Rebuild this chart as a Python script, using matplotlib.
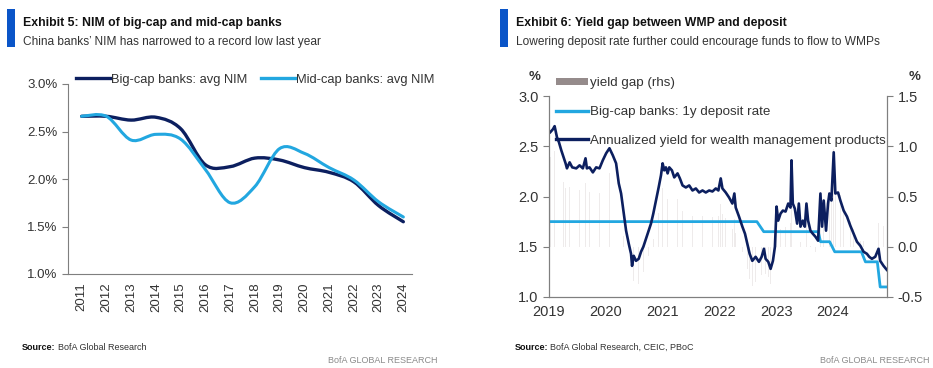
import numpy as np
import matplotlib
matplotlib.use("Agg")
import matplotlib.pyplot as plt
from matplotlib.path import Path
from matplotlib.patches import PathPatch, Patch, Rectangle
from matplotlib.lines import Line2D

plt.rcParams['font.family'] = ['Liberation Sans', 'DejaVu Sans']

# ---- Exhibit 5 data: average NIM (%)
years = [2011, 2012, 2013, 2014, 2015, 2016, 2017, 2018, 2019, 2020, 2021, 2022, 2023, 2024]
big_nim = [2.66, 2.66, 2.62, 2.65, 2.53, 2.15, 2.13, 2.22, 2.20, 2.12, 2.07, 1.97, 1.72, 1.55]
mid_nim = [2.66, 2.66, 2.41, 2.47, 2.42, 2.10, 1.75, 1.92, 2.32, 2.27, 2.12, 1.99, 1.76, 1.60]

# ---- Exhibit 6 data: time in years after 1 Jan 2019
wmp_t = [0.023, 0.070, 0.099, 0.140, 0.175, 0.216, 0.257, 0.292, 0.316, 0.363,
         0.409, 0.480, 0.538, 0.596, 0.643, 0.667, 0.713, 0.772, 0.830, 0.889,
         0.947, 1.006, 1.064, 1.123, 1.181, 1.228, 1.269, 1.310, 1.357, 1.404,
         1.444, 1.462, 1.491, 1.532, 1.579, 1.620, 1.661, 1.708, 1.754, 1.795,
         1.836, 1.883, 1.930, 1.971, 2.000, 2.029, 2.058, 2.088, 2.117, 2.164,
         2.205, 2.263, 2.304, 2.351, 2.409, 2.468, 2.526, 2.585, 2.643, 2.702,
         2.760, 2.819, 2.877, 2.936, 2.982, 3.023, 3.053, 3.111, 3.170, 3.228,
         3.263, 3.287, 3.345, 3.404, 3.450, 3.491, 3.532, 3.579, 3.637, 3.696,
         3.743, 3.784, 3.813, 3.860, 3.901, 3.942, 3.977, 4.006, 4.035, 4.076,
         4.117, 4.164, 4.211, 4.251, 4.269, 4.292, 4.327, 4.368, 4.398, 4.427,
         4.468, 4.503, 4.532, 4.561, 4.602, 4.643, 4.690, 4.737, 4.778, 4.807,
         4.836, 4.877, 4.912, 4.936, 4.971, 5.012, 5.041, 5.088, 5.129, 5.187,
         5.246, 5.304, 5.363, 5.421, 5.480, 5.538, 5.596, 5.637, 5.684, 5.743,
         5.801, 5.830, 5.889, 5.947]
wmp_yield = [2.64, 2.67, 2.70, 2.59, 2.54, 2.46, 2.39, 2.33, 2.28, 2.34,
             2.29, 2.28, 2.31, 2.28, 2.38, 2.28, 2.29, 2.24, 2.29, 2.28,
             2.36, 2.43, 2.48, 2.41, 2.33, 2.13, 2.03, 1.86, 1.66, 1.53,
             1.43, 1.31, 1.41, 1.36, 1.38, 1.45, 1.50, 1.58, 1.66, 1.73,
             1.83, 1.96, 2.09, 2.21, 2.33, 2.26, 2.29, 2.23, 2.29, 2.26,
             2.19, 2.23, 2.18, 2.11, 2.09, 2.11, 2.06, 2.08, 2.04, 2.06,
             2.04, 2.06, 2.05, 2.08, 2.06, 2.18, 2.08, 2.04, 1.99, 1.93,
             2.03, 1.89, 1.80, 1.70, 1.63, 1.53, 1.43, 1.36, 1.40, 1.35,
             1.40, 1.48, 1.38, 1.35, 1.28, 1.36, 1.50, 1.90, 1.76, 1.83,
             1.86, 1.85, 1.93, 1.89, 2.36, 1.93, 1.88, 1.73, 1.93, 1.70,
             1.76, 1.70, 1.93, 1.76, 1.66, 1.63, 1.60, 1.56, 2.03, 1.70,
             1.96, 1.66, 1.93, 2.03, 1.96, 2.44, 2.03, 2.04, 1.96, 1.86,
             1.80, 1.71, 1.63, 1.55, 1.51, 1.45, 1.43, 1.40, 1.38, 1.40,
             1.48, 1.36, 1.31, 1.27]
dep_t = [0.0, 3.66, 3.78, 4.74, 4.78, 4.94, 5.03, 5.50, 5.57, 5.78, 5.83, 5.95]
dep_rate = [1.75, 1.75, 1.65, 1.65, 1.55, 1.55, 1.45, 1.45, 1.35, 1.35, 1.10, 1.10]

navy = '#0c1f5f'
sky = '#22a7e0'
grey = '#7f7f7f'
bofa_blue = '#0a55c8'

W, H = 933, 368
fig = plt.figure(figsize=(W / 100, H / 100), dpi=100)


def fx(px):
    return px / W


def fy(py):
    return 1 - py / H


def smooth_path(x, y):
    # bezier through every point, like a spreadsheet "smoothed line"
    x = np.asarray(x, float)
    y = np.asarray(y, float)
    px = np.r_[x[0], x, x[-1]]
    py = np.r_[y[0], y, y[-1]]
    verts = [(x[0], y[0])]
    codes = [Path.MOVETO]
    for i in range(len(x) - 1):
        c1 = (px[i + 1] + (px[i + 2] - px[i]) / 6, py[i + 1] + (py[i + 2] - py[i]) / 6)
        c2 = (px[i + 2] - (px[i + 3] - px[i + 1]) / 6, py[i + 2] - (py[i + 3] - py[i + 1]) / 6)
        verts += [c1, c2, (x[i + 1], y[i + 1])]
        codes += [Path.CURVE4] * 3
    return Path(verts, codes)


def header(x0, title, subtitle, source):
    fig.add_artist(Rectangle((fx(x0), fy(47)), fx(8), 38 / H, color=bofa_blue, lw=0))
    fig.text(fx(x0 + 16), fy(26), title, fontsize=8.8, weight='bold', color='#111111',
             va='baseline')
    fig.text(fx(x0 + 16), fy(45), subtitle, fontsize=8.6, color='#333333', va='baseline')
    t = fig.text(fx(x0 + 15), fy(350), 'Source:', fontsize=6.5, weight='bold', color='#111111',
                 va='baseline')
    bb = t.get_window_extent(fig.canvas.get_renderer())
    fig.text(bb.x1 / W + fx(2), fy(350), source, fontsize=6.5, color='#333333', va='baseline')


header(7, 'Exhibit 5: NIM of big-cap and mid-cap banks',
       'China banks\u2019 NIM has narrowed to a record low last year', 'BofA Global Research')
header(500, 'Exhibit 6: Yield gap between WMP and deposit',
       'Lowering deposit rate further could encourage funds to flow to WMPs',
       'BofA Global Research, CEIC, PBoC')
for xr in (438, 930):
    fig.text(fx(xr), fy(363), 'BofA GLOBAL RESEARCH', fontsize=6.5, color='#8a8a8a',
             ha='right', va='baseline')

# ---------------- Exhibit 5
ax1 = fig.add_axes([fx(68), fy(274), fx(412 - 68), (274 - 84) / H])
ax1.add_patch(PathPatch(smooth_path(years, big_nim), fill=False, ec=navy, lw=2.4,
                        capstyle='round', zorder=3))
ax1.add_patch(PathPatch(smooth_path(years, mid_nim), fill=False, ec=sky, lw=2.2,
                        capstyle='round', zorder=3))
ax1.set_xlim(2010.45, 2024.35)
ax1.set_ylim(1.0, 3.0)
ax1.set_yticks(np.arange(1.0, 3.01, 0.5))
ax1.set_yticklabels(['%.1f%%' % v for v in np.arange(1.0, 3.01, 0.5)])
ax1.set_xticks(years)
ax1.set_xticklabels([str(y) for y in years], rotation=90)
ax1.tick_params(axis='x', length=0, pad=6, labelsize=9.5, labelcolor='#333333')
ax1.tick_params(axis='y', length=4, width=0.8, color=grey, labelsize=9.5, labelcolor='#333333')
for s in ('top', 'right'):
    ax1.spines[s].set_visible(False)
for s in ('left', 'bottom'):
    ax1.spines[s].set_color(grey)
    ax1.spines[s].set_linewidth(0.8)

fig.legend([Line2D([], [], color=navy, lw=2.4), Line2D([], [], color=sky, lw=2.4)],
           ['Big-cap banks: avg NIM', 'Mid-cap banks: avg NIM'],
           loc='center left', bbox_to_anchor=(fx(76), fy(80)), ncol=2, frameon=False,
           fontsize=9.3, handlelength=2.6, handletextpad=0.1, columnspacing=1.1,
           borderpad=0, borderaxespad=0, labelcolor='#333333')

# ---------------- Exhibit 6
ax2 = fig.add_axes([fx(549), fy(297), fx(887 - 549), (297 - 96) / H])
axr = ax2.twinx()
ax2.set_zorder(axr.get_zorder() + 1)
ax2.patch.set_visible(False)

wmp_x = 2019 + np.array(wmp_t)
dep_x = 2019 + np.array(dep_t)
gap = np.array(wmp_yield) - np.interp(wmp_x, dep_x, dep_rate)
axr.bar(wmp_x, gap, width=0.008, color='#eeebeb', lw=0)

ax2.plot(dep_x, dep_rate, color=sky, lw=2.0)
ax2.plot(wmp_x, wmp_yield, color=navy, lw=1.9)

ax2.set_xlim(2019, 2024.95)
ax2.set_ylim(1.0, 3.0)
axr.set_ylim(-0.5, 1.5)
ax2.set_yticks(np.arange(1.0, 3.01, 0.5))
ax2.set_yticklabels(['%.1f' % v for v in np.arange(1.0, 3.01, 0.5)])
axr.set_yticks(np.arange(-0.5, 1.51, 0.5))
axr.set_yticklabels(['%.1f' % v for v in np.arange(-0.5, 1.51, 0.5)])
ax2.set_xticks(range(2019, 2025))
ax2.tick_params(axis='x', length=0, pad=6, labelsize=10.5, labelcolor='#333333')
ax2.tick_params(axis='y', length=4, width=0.8, color=grey, labelsize=10.5, labelcolor='#333333')
axr.tick_params(axis='y', length=4, width=0.8, color=grey, labelsize=10.5, labelcolor='#333333')
for a in (ax2, axr):
    a.spines['top'].set_visible(False)
    for s in ('left', 'right', 'bottom'):
        a.spines[s].set_color(grey)
        a.spines[s].set_linewidth(0.8)

fig.text(fx(535), fy(77), '%', fontsize=9.5, weight='bold', color='#333333', ha='center', va='center')
fig.text(fx(915), fy(77), '%', fontsize=9.5, weight='bold', color='#333333', ha='center', va='center')

fig.legend([Patch(color='#958b8b', lw=0), Line2D([], [], color=sky, lw=2.4),
            Line2D([], [], color=navy, lw=2.4)],
           ['yield gap (rhs)', 'Big-cap banks: 1y deposit rate',
            'Annualized yield for wealth management products'],
           loc='center left', bbox_to_anchor=(fx(556), fy(112)), frameon=False,
           fontsize=9.6, handlelength=2.4, handleheight=0.5, handletextpad=0.15,
           labelspacing=1.25, borderpad=0, borderaxespad=0, labelcolor='#333333')

fig.savefig('out.png', dpi=100)
